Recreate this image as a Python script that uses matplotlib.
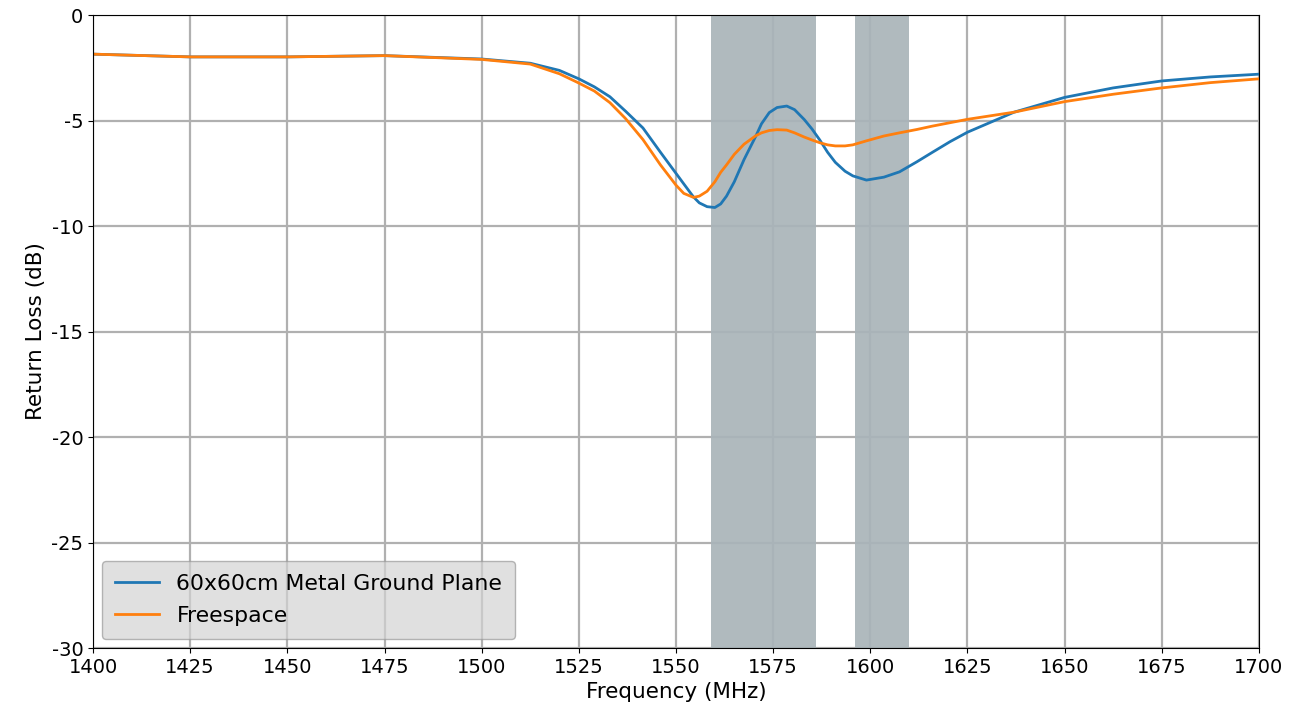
import numpy as np
import matplotlib.pyplot as plt

plt.rcParams['axes.unicode_minus'] = False

freq = [1400, 1425, 1450, 1475, 1500, 1512.5, 1520, 1525, 1529, 1533, 1537,
        1541.5, 1546, 1550, 1552, 1554.5, 1556, 1558, 1560, 1561.5, 1563,
        1565, 1567.5, 1569, 1570.5, 1572, 1574, 1576, 1578.5, 1580.5, 1583,
        1585, 1587, 1589, 1591, 1593.5, 1595.5, 1599, 1603.5, 1607.5, 1612,
        1616, 1620.5, 1625, 1637, 1650, 1662.5, 1675, 1687.5, 1700]

ground_plane = [-1.85, -1.98, -1.98, -1.92, -2.08, -2.28, -2.62, -3.02, -3.40,
                -3.87, -4.55, -5.35, -6.50, -7.50, -8.00, -8.62, -8.90, -9.08,
                -9.12, -8.95, -8.58, -7.90, -6.85, -6.30, -5.75, -5.15, -4.62,
                -4.38, -4.31, -4.48, -4.95, -5.40, -5.92, -6.50, -6.98, -7.40,
                -7.62, -7.82, -7.68, -7.43, -6.95, -6.50, -6.00, -5.55, -4.60,
                -3.90, -3.45, -3.12, -2.93, -2.80]

freespace = [-1.85, -1.98, -1.98, -1.92, -2.10, -2.32, -2.78, -3.22, -3.60,
             -4.15, -4.90, -5.90, -7.10, -8.06, -8.45, -8.64, -8.58, -8.35,
             -7.90, -7.45, -7.10, -6.60, -6.12, -5.92, -5.72, -5.58, -5.47,
             -5.43, -5.45, -5.58, -5.78, -5.92, -6.05, -6.15, -6.20, -6.20,
             -6.15, -5.96, -5.73, -5.58, -5.42, -5.26, -5.10, -4.94, -4.60,
             -4.10, -3.75, -3.45, -3.20, -3.02]

bands = [(1559, 1586), (1596, 1610)]

fig, ax = plt.subplots(figsize=(13.01, 7.2), dpi=100)
fig.subplots_adjust(left=0.0715, right=0.9677, top=0.979, bottom=0.1)

ax.set_axisbelow(True)
ax.grid(True, color='#b0b0b0', linewidth=1.6)

for lo, hi in bands:
    ax.axvspan(lo, hi, color='#a9b4b9', alpha=0.92, linewidth=0)

ax.plot(freq, ground_plane, color='tab:blue', linewidth=2, label='60x60cm Metal Ground Plane')
ax.plot(freq, freespace, color='tab:orange', linewidth=2, label='Freespace')

ax.set_xlim(1400, 1700)
ax.set_ylim(-30, 0)
ax.set_xticks(np.arange(1400, 1701, 25))
ax.set_yticks(np.arange(-30, 1, 5))
ax.tick_params(labelsize=14)
ax.set_xlabel('Frequency (MHz)', fontsize=15.5)
ax.set_ylabel('Return Loss (dB)', fontsize=15.5)

ax.legend(loc='lower left', fontsize=15.8, facecolor='lightgray', framealpha=0.7,
          edgecolor='#999999', borderpad=0.6, labelspacing=0.55, borderaxespad=0.4)

fig.savefig('out.png', dpi=100)
